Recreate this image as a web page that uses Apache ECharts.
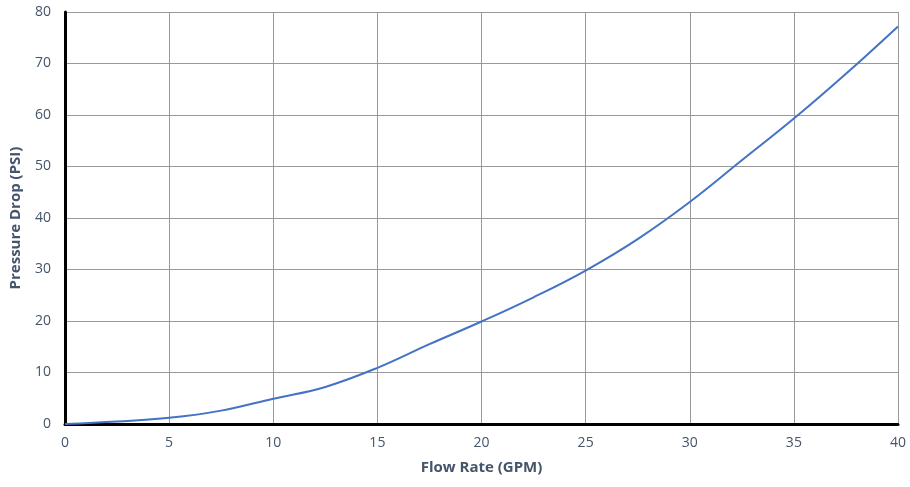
<!DOCTYPE html>
<html><head><meta charset="utf-8">
<script src="https://cdn.jsdelivr.net/npm/echarts@6/dist/echarts.min.js"></script>
<style>html,body{margin:0;padding:0;background:#fff}#c{width:910px;height:487px}</style>
</head><body><div id="c"></div>
<script>
const flowRate = [0, 2.5, 5, 7.5, 10, 12.5, 15, 17.5, 20, 22.5, 25, 27.5, 30, 32.5, 35, 37.5, 40];
const pressureDrop = [0, 0.5, 1.2, 2.6, 4.9, 7.2, 10.9, 15.5, 19.9, 24.6, 29.8, 35.9, 43.1, 51.2, 59.3, 68.0, 77.2];
const xTitle = 'Flow Rate (GPM)';
const yTitle = 'Pressure Drop (PSI)';

const chart = echarts.init(document.getElementById('c'));
const font = 'Open Sans, Liberation Sans, sans-serif';
const txt = '#44546A';
chart.setOption({
  animation: false,
  grid: {left: 64, right: 12, top: 12, bottom: 63},
  xAxis: {
    type: 'value', min: 0, max: 40, interval: 5,
    name: xTitle, nameLocation: 'middle', nameGap: 36,
    nameTextStyle: {fontFamily: font, fontWeight: 'bold', fontSize: 15, color: txt},
    axisLine: {onZero: false, lineStyle: {color: '#000', width: 3}},
    axisTick: {show: false},
    axisLabel: {fontFamily: font, fontSize: 14, color: txt, margin: 12},
    splitLine: {lineStyle: {color: '#999', width: 1}}
  },
  yAxis: {
    type: 'value', min: 0, max: 80, interval: 10,
    name: yTitle, nameLocation: 'middle', nameGap: 42,
    nameTextStyle: {fontFamily: font, fontWeight: 'bold', fontSize: 15, color: txt},
    axisLine: {show: true, lineStyle: {color: '#000', width: 3}},
    axisTick: {show: false},
    axisLabel: {fontFamily: font, fontSize: 14, color: txt, margin: 14},
    splitLine: {lineStyle: {color: '#999', width: 1}}
  },
  series: [{
    type: 'line', smooth: 0.4, showSymbol: false,
    lineStyle: {color: '#4472C4', width: 2},
    data: flowRate.map((x, i) => [x, pressureDrop[i]])
  }]
});
</script></body></html>
